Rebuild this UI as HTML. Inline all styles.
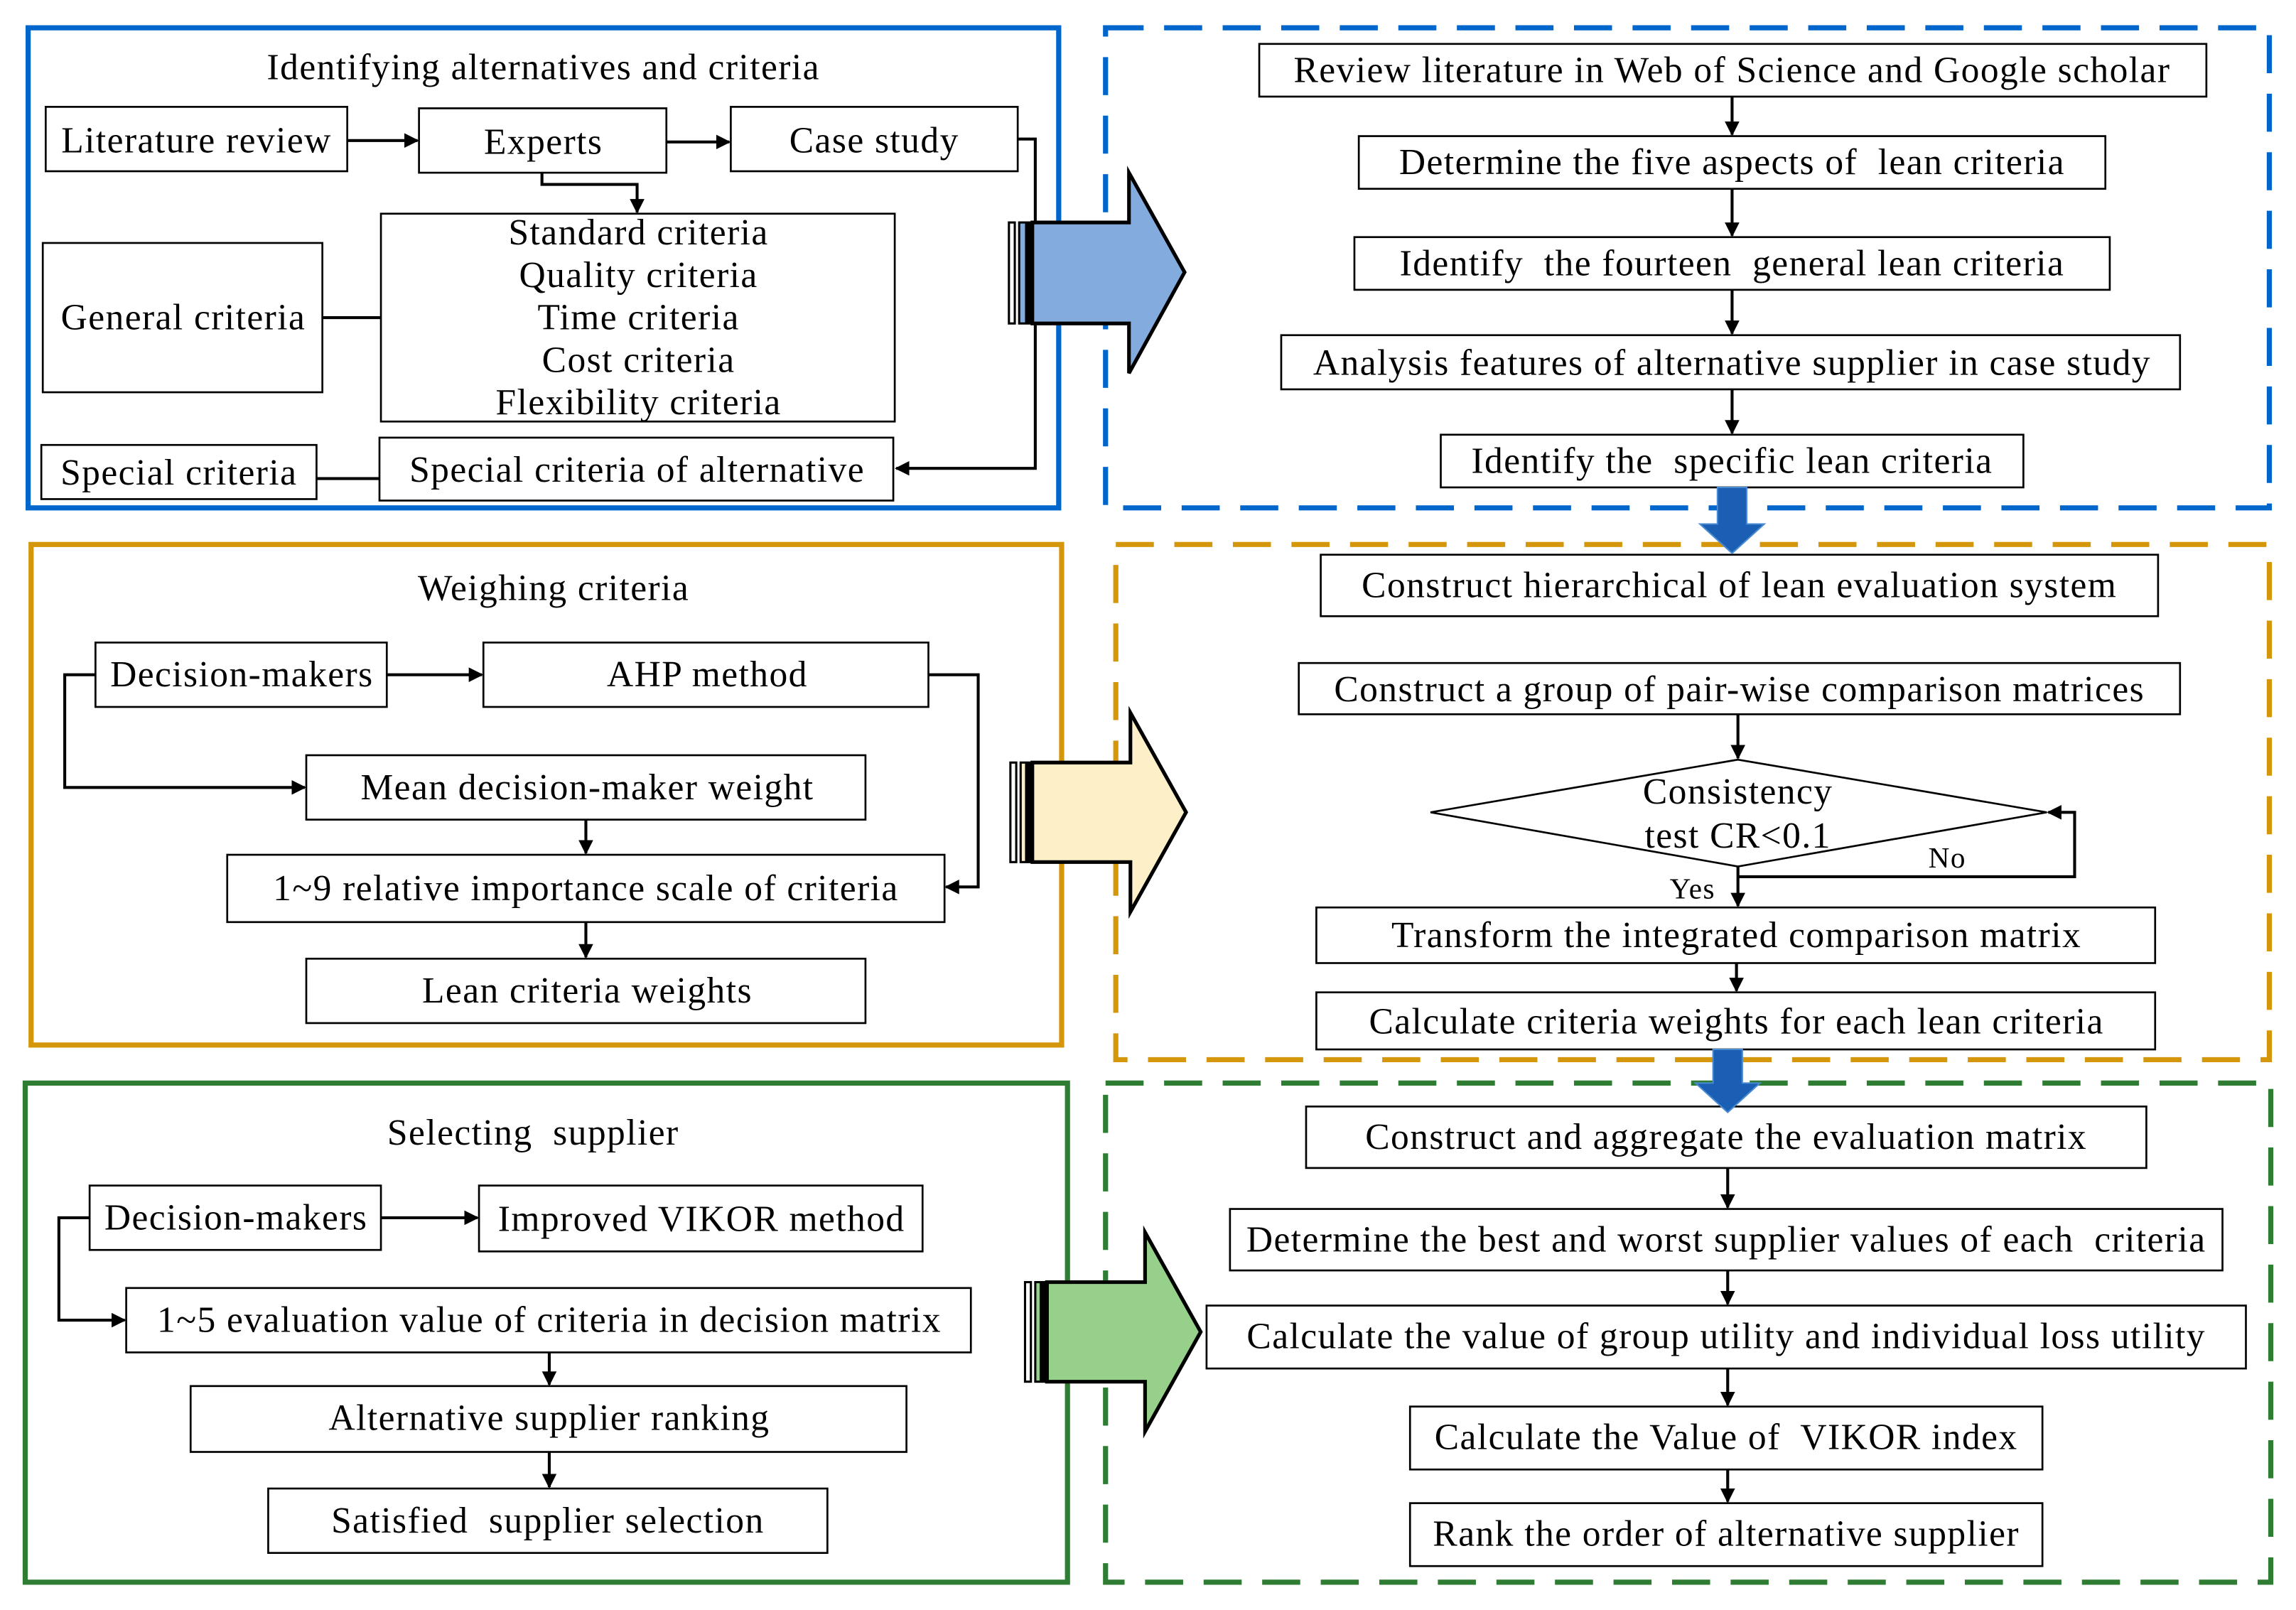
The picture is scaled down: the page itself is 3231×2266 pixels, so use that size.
<!DOCTYPE html>
<html><head><meta charset="utf-8"><style>
html,body{margin:0;padding:0;background:#fff;}
svg{display:block;}
text{font-family:"Liberation Serif",serif;font-size:25px;letter-spacing:0.7px;fill:#000;text-anchor:middle;dominant-baseline:central;white-space:pre;}
.b{fill:#fff;stroke:#000;stroke-width:1.3;}
.l{fill:none;stroke:#000;stroke-width:2;}
</style></head><body>
<svg width="3231" height="2266" viewBox="0 0 1568 1100" xmlns="http://www.w3.org/2000/svg" xml:space="preserve">
<defs><marker id="a" markerWidth="10" markerHeight="10" refX="9" refY="5" orient="auto" markerUnits="userSpaceOnUse"><path d="M0,0 L10,5 L0,10 z" fill="#000"/></marker></defs>
<rect width="1568" height="1100" fill="#fff"/>

<!-- Panel 1 -->
<rect x="19" y="19" width="704" height="328" fill="none" stroke="#0066cc" stroke-width="3.5"/>
<text x="371" y="46">Identifying alternatives and criteria</text>
<rect class="b" x="31" y="73" width="206" height="44"/><text x="134" y="96">Literature review</text>
<rect class="b" x="286" y="74" width="169" height="44"/><text x="371" y="97">Experts</text>
<rect class="b" x="499" y="73" width="196" height="44"/><text x="597" y="96">Case study</text>
<rect class="b" x="29" y="166" width="191" height="102"/><text x="125" y="217">General criteria</text>
<rect class="b" x="260" y="146" width="351" height="142"/>
<text x="436" y="159">Standard criteria</text><text x="436" y="188">Quality criteria</text><text x="436" y="217">Time criteria</text><text x="436" y="246">Cost criteria</text><text x="436" y="275">Flexibility criteria</text>
<rect class="b" x="28" y="304" width="188" height="37"/><text x="122" y="323">Special criteria</text>
<rect class="b" x="259" y="299" width="351" height="43"/><text x="435" y="321">Special criteria of alternative</text>
<path class="l" d="M237,96 H285" marker-end="url(#a)"/>
<path class="l" d="M455,97 H498" marker-end="url(#a)"/>
<path class="l" d="M370,118 V126 H435 V145" marker-end="url(#a)"/>
<path class="l" d="M220,217 H260"/>
<path class="l" d="M695,95 H707 V320 H612" marker-end="url(#a)"/>
<path class="l" d="M216,327 H259"/>

<!-- Right panel 1 -->
<rect x="755" y="19" width="795" height="328" fill="none" stroke="#0066cc" stroke-width="3.5" stroke-dasharray="26,14"/>
<rect class="b" x="860" y="30" width="647" height="36"/><text x="1183" y="48">Review literature in Web of Science and Google scholar</text>
<rect class="b" x="928" y="93" width="510" height="36"/><text x="1183" y="111">Determine the five aspects of  lean criteria</text>
<rect class="b" x="925" y="162" width="516" height="36"/><text x="1183" y="180">Identify  the fourteen  general lean criteria</text>
<rect class="b" x="875" y="229" width="614" height="37"/><text x="1183" y="248">Analysis features of alternative supplier in case study</text>
<rect class="b" x="984" y="297" width="398" height="36"/><text x="1183" y="315">Identify the  specific lean criteria</text>
<path class="l" d="M1183,66 V92" marker-end="url(#a)"/>
<path class="l" d="M1183,129 V161" marker-end="url(#a)"/>
<path class="l" d="M1183,198 V228" marker-end="url(#a)"/>
<path class="l" d="M1183,266 V296" marker-end="url(#a)"/>

<!-- Arrow 1 -->
<path d="M705,152 H771 V118 L809,186 L771,255 V221 H705 z" fill="#84abdd" stroke="#000" stroke-width="2.5"/>
<rect x="689" y="152" width="4" height="69" fill="none" stroke="#000" stroke-width="1.5"/>
<rect x="696" y="152" width="9" height="69" fill="#84abdd" stroke="#000" stroke-width="1.5"/>
<rect x="700" y="152" width="5" height="69" fill="#000"/>

<!-- Panel 2 -->
<rect x="21" y="372" width="704" height="342" fill="none" stroke="#d4960a" stroke-width="3.5"/>
<text x="378" y="402">Weighing criteria</text>
<rect class="b" x="65" y="439" width="199" height="44"/><text x="165" y="461">Decision-makers</text>
<rect class="b" x="330" y="439" width="304" height="44"/><text x="483" y="461">AHP method</text>
<rect class="b" x="209" y="516" width="382" height="44"/><text x="401" y="538">Mean decision-maker weight</text>
<rect class="b" x="155" y="584" width="490" height="46"/><text x="400" y="607">1~9 relative importance scale of criteria</text>
<rect class="b" x="209" y="655" width="382" height="44"/><text x="401" y="677">Lean criteria weights</text>
<path class="l" d="M264,461 H329" marker-end="url(#a)"/>
<path class="l" d="M65,461 H44 V538 H208" marker-end="url(#a)"/>
<path class="l" d="M634,461 H668 V606 H646" marker-end="url(#a)"/>
<path class="l" d="M400,560 V583" marker-end="url(#a)"/>
<path class="l" d="M400,630 V654" marker-end="url(#a)"/>

<!-- Right panel 2 -->
<rect x="762" y="372" width="788" height="352" fill="none" stroke="#d4960a" stroke-width="3.5" stroke-dasharray="26,14"/>
<rect class="b" x="902" y="379" width="572" height="42"/><text x="1188" y="400">Construct hierarchical of lean evaluation system</text>
<rect class="b" x="887" y="453" width="602" height="35"/><text x="1188" y="471">Construct a group of pair-wise comparison matrices</text>
<path d="M1187,519 L1398,555 L1187,592 L977,555 z" fill="#fff" stroke="#000" stroke-width="1.3"/>
<text x="1187" y="541">Consistency</text><text x="1187" y="571">test CR&lt;0.1</text>
<path class="l" d="M1187,488 V518" marker-end="url(#a)"/>
<path class="l" d="M1187,599 H1417 V555 H1399" marker-end="url(#a)"/>
<text x="1330" y="586" style="font-size:20px">No</text>
<text x="1156" y="607" style="font-size:20px">Yes</text>
<path class="l" d="M1187,592 V619" marker-end="url(#a)"/>
<rect class="b" x="899" y="620" width="573" height="38"/><text x="1186" y="639">Transform the integrated comparison matrix</text>
<rect class="b" x="899" y="678" width="573" height="39"/><text x="1186" y="698">Calculate criteria weights for each lean criteria</text>
<path class="l" d="M1186,658 V677" marker-end="url(#a)"/>

<!-- Arrow 2 -->
<path d="M705,521 H772 V487 L810,555 L772,623 V589 H705 z" fill="#fdf0c8" stroke="#000" stroke-width="2.5"/>
<rect x="690" y="521" width="4" height="68" fill="none" stroke="#000" stroke-width="1.5"/>
<rect x="697" y="521" width="8" height="68" fill="#fdf0c8" stroke="#000" stroke-width="1.5"/>
<rect x="700" y="521" width="5" height="68" fill="#000"/>

<!-- Panel 3 -->
<rect x="17" y="740" width="712" height="341" fill="none" stroke="#2e7d32" stroke-width="3.5"/>
<text x="364" y="774">Selecting  supplier</text>
<rect class="b" x="61" y="810" width="199" height="44"/><text x="161" y="832">Decision-makers</text>
<rect class="b" x="327" y="810" width="303" height="45"/><text x="479" y="833">Improved VIKOR method</text>
<rect class="b" x="86" y="880" width="577" height="44"/><text x="375" y="902">1~5 evaluation value of criteria in decision matrix</text>
<rect class="b" x="130" y="947" width="489" height="45"/><text x="375" y="969">Alternative supplier ranking</text>
<rect class="b" x="183" y="1017" width="382" height="44"/><text x="374" y="1039">Satisfied  supplier selection</text>
<path class="l" d="M260,832 H326" marker-end="url(#a)"/>
<path class="l" d="M61,832 H40 V902 H85" marker-end="url(#a)"/>
<path class="l" d="M375,924 V946" marker-end="url(#a)"/>
<path class="l" d="M375,992 V1016" marker-end="url(#a)"/>

<!-- Right panel 3 -->
<rect x="755" y="740" width="796" height="341" fill="none" stroke="#2e7d32" stroke-width="3.5" stroke-dasharray="26,14"/>
<rect class="b" x="892" y="756" width="574" height="42"/><text x="1179" y="777">Construct and aggregate the evaluation matrix</text>
<rect class="b" x="840" y="826" width="678" height="42"/><text x="1179" y="847">Determine the best and worst supplier values of each  criteria</text>
<rect class="b" x="824" y="892" width="710" height="43"/><text x="1179" y="913">Calculate the value of group utility and individual loss utility</text>
<rect class="b" x="963" y="961" width="432" height="43"/><text x="1179" y="982">Calculate the Value of  VIKOR index</text>
<rect class="b" x="963" y="1027" width="432" height="43"/><text x="1179" y="1048">Rank the order of alternative supplier</text>
<path class="l" d="M1180,798 V825" marker-end="url(#a)"/>
<path class="l" d="M1180,868 V891" marker-end="url(#a)"/>
<path class="l" d="M1180,935 V960" marker-end="url(#a)"/>
<path class="l" d="M1180,1004 V1026" marker-end="url(#a)"/>

<!-- Arrow 3 -->
<path d="M715,876 H782 V842 L820,910 L782,978 V944 H715 z" fill="#96d08a" stroke="#000" stroke-width="2.5"/>
<rect x="700" y="876" width="4" height="68" fill="none" stroke="#000" stroke-width="1.5"/>
<rect x="707" y="876" width="8" height="68" fill="#96d08a" stroke="#000" stroke-width="1.5"/>
<rect x="710" y="876" width="5" height="68" fill="#000"/>

<!-- Down arrows -->
<path d="M1173,333 H1193 V358 H1205 L1183,378 L1161,358 H1173 z" fill="#1a5fb4" stroke="#4a8ad0" stroke-width="1"/>
<path d="M1170,717 H1190 V740 H1202 L1180,760 L1158,740 H1170 z" fill="#1a5fb4" stroke="#4a8ad0" stroke-width="1"/>
</svg>
</body></html>
